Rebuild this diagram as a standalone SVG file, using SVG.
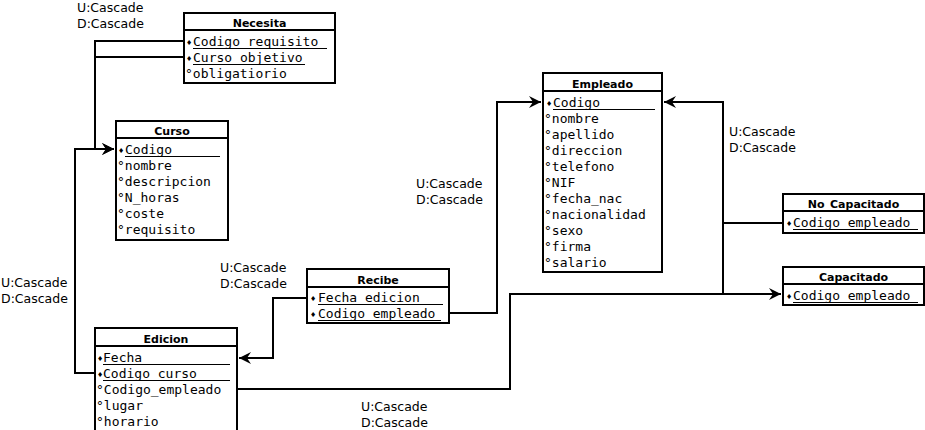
<svg xmlns="http://www.w3.org/2000/svg" width="925" height="430" viewBox="0 0 925 430">
<style>
.box{fill:#fff;stroke:#000;stroke-width:2}
.hdr{stroke:#000;stroke-width:2}
.ttl{font-family:"DejaVu Sans",sans-serif;font-weight:bold;font-size:11px;text-anchor:middle;fill:#000}
.row{font-family:"DejaVu Sans Mono",monospace;font-size:13px;fill:#000}
.dm{font-family:"DejaVu Sans",sans-serif;font-size:7px;fill:#000}
.ul{stroke:#000;stroke-width:1}
.lbl{font-family:"DejaVu Sans",sans-serif;font-size:12.5px;fill:#000}
.con{fill:none;stroke:#000;stroke-width:2}
</style>
<defs>
<marker id="ah" markerUnits="userSpaceOnUse" markerWidth="14" markerHeight="14" viewBox="-12 -7 14 14" refX="0" refY="0" orient="auto">
<path d="M0,0 L-12,-6 L-8,0 L-12,6 Z" fill="#000"/>
</marker>
</defs>
<rect width="925" height="430" fill="#fff"/>

<g id="connectors">
<path class="con" d="M184,41 H95 V149 H114" marker-end="url(#ah)"/>
<path class="con" d="M184,57 H95"/>
<path class="con" d="M95,373 H75 V149 H114" marker-end="url(#ah)"/>
<path class="con" d="M307,298 H273 V358 H239" marker-end="url(#ah)"/>
<path class="con" d="M449,313 H497 V102 H541" marker-end="url(#ah)"/>
<path class="con" d="M783,223 H723 V102 H664" marker-end="url(#ah)"/>
<path class="con" d="M723,223 V294"/>
<path class="con" d="M237,389 H510 V294 H781" marker-end="url(#ah)"/>
</g>

<g id="labels">
<text class="lbl" x="77" y="12">U:Cascade</text>
<text class="lbl" x="77" y="28">D:Cascade</text>
<text class="lbl" x="729" y="136">U:Cascade</text>
<text class="lbl" x="729" y="152">D:Cascade</text>
<text class="lbl" x="416" y="188">U:Cascade</text>
<text class="lbl" x="416" y="204">D:Cascade</text>
<text class="lbl" x="220" y="272">U:Cascade</text>
<text class="lbl" x="220" y="288">D:Cascade</text>
<text class="lbl" x="1" y="287">U:Cascade</text>
<text class="lbl" x="1" y="303">D:Cascade</text>
<text class="lbl" x="361" y="411">U:Cascade</text>
<text class="lbl" x="361" y="427">D:Cascade</text>
</g>

<g id="Necesita">
<rect class="box" x="184" y="13" width="151" height="70"/>
<line class="hdr" x1="184" y1="30" x2="335" y2="30"/>
<text class="ttl" x="259.5" y="27">Necesita</text>
<text class="dm" x="186" y="45">♦</text><text class="row" x="193" y="46">Codigo_requisito</text>
<line class="ul" x1="193" y1="48.5" x2="327" y2="48.5"/>
<text class="dm" x="186" y="61">♦</text><text class="row" x="193" y="62">Curso_objetivo</text>
<line class="ul" x1="193" y1="64.5" x2="305" y2="64.5"/>
<text class="row" x="185" y="78">°obligatiorio</text>
</g>

<g id="Curso">
<rect class="box" x="116" y="121" width="112" height="119"/>
<line class="hdr" x1="116" y1="138" x2="228" y2="138"/>
<text class="ttl" x="172" y="135">Curso</text>
<text class="dm" x="118" y="153">♦</text><text class="row" x="125" y="154">Codigo</text>
<line class="ul" x1="125" y1="156.5" x2="220" y2="156.5"/>
<text class="row" x="117" y="170">°nombre</text>
<text class="row" x="117" y="186">°descripcion</text>
<text class="row" x="117" y="202">°N_horas</text>
<text class="row" x="117" y="218">°coste</text>
<text class="row" x="117" y="234">°requisito</text>
</g>

<g id="Empleado">
<rect class="box" x="543" y="73" width="119" height="199"/>
<line class="hdr" x1="543" y1="91" x2="662" y2="91"/>
<text class="ttl" x="602.5" y="88">Empleado</text>
<text class="dm" x="546" y="106">♦</text><text class="row" x="553" y="107">Codigo</text>
<line class="ul" x1="553" y1="109.5" x2="655" y2="109.5"/>
<text class="row" x="544" y="123">°nombre</text>
<text class="row" x="544" y="139">°apellido</text>
<text class="row" x="544" y="155">°direccion</text>
<text class="row" x="544" y="171">°telefono</text>
<text class="row" x="544" y="187">°NIF</text>
<text class="row" x="544" y="203">°fecha_nac</text>
<text class="row" x="544" y="219">°nacionalidad</text>
<text class="row" x="544" y="235">°sexo</text>
<text class="row" x="544" y="251">°firma</text>
<text class="row" x="544" y="267">°salario</text>
</g>

<g id="Recibe">
<rect class="box" x="307" y="269" width="142" height="54"/>
<line class="hdr" x1="307" y1="287" x2="449" y2="287"/>
<text class="ttl" x="378" y="284">Recibe</text>
<text class="dm" x="310" y="301">♦</text><text class="row" x="318" y="302">Fecha_edicion</text>
<line class="ul" x1="318" y1="304.5" x2="443" y2="304.5"/>
<text class="dm" x="310" y="317">♦</text><text class="row" x="318" y="318">Codigo_empleado</text>
<line class="ul" x1="318" y1="320.5" x2="441" y2="320.5"/>
</g>

<g id="Edicion">
<rect class="box" x="95" y="328" width="142" height="110"/>
<line class="hdr" x1="95" y1="346" x2="237" y2="346"/>
<text class="ttl" x="166" y="343">Edicion</text>
<text class="dm" x="97" y="361">♦</text><text class="row" x="103" y="362">Fecha</text>
<line class="ul" x1="103" y1="364.5" x2="230" y2="364.5"/>
<text class="dm" x="97" y="377">♦</text><text class="row" x="103" y="378">Codigo_curso</text>
<line class="ul" x1="103" y1="380.5" x2="230" y2="380.5"/>
<text class="row" x="96" y="394">°Codigo_empleado</text>
<text class="row" x="96" y="410">°lugar</text>
<text class="row" x="96" y="426">°horario</text>
</g>

<g id="No_Capacitado">
<rect class="box" x="783" y="194" width="141" height="39"/>
<line class="hdr" x1="783" y1="211" x2="924" y2="211"/>
<text class="ttl" x="853.5" y="208">No_Capacitado</text>
<text class="dm" x="786" y="226">♦</text><text class="row" x="793" y="227">Codigo_empleado</text>
<line class="ul" x1="793" y1="229.5" x2="918" y2="229.5"/>
</g>

<g id="Capacitado">
<rect class="box" x="783" y="267" width="141" height="38"/>
<line class="hdr" x1="783" y1="284" x2="924" y2="284"/>
<text class="ttl" x="853.5" y="281">Capacitado</text>
<text class="dm" x="786" y="299">♦</text><text class="row" x="793" y="300">Codigo_empleado</text>
<line class="ul" x1="793" y1="302.5" x2="918" y2="302.5"/>
</g>
</svg>
